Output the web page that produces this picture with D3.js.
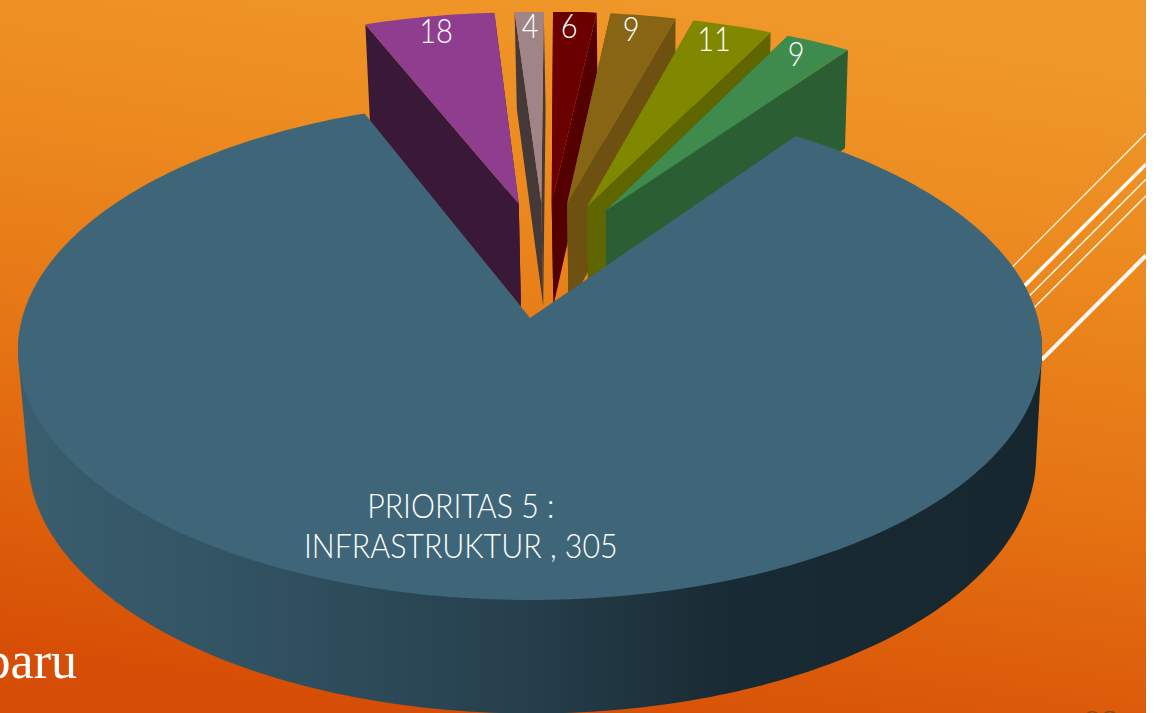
<!DOCTYPE html>
<html><head><meta charset="utf-8">
<style>html,body{margin:0;padding:0;background:#fff;overflow:hidden}svg{display:block}</style>
<script src="https://cdn.jsdelivr.net/npm/d3@7"></script></head><body>
<svg id="c" width="1154" height="713"></svg>
<script>
const categories = ["PRIORITAS 5 :\nINFRASTRUKTUR , 305","18","4","6","9","11","9"];
const values = [305,18,4,6,9,11,9];
const topColors = ["#3f6678","#8f3d8f","#a08488","#6b0000","#876514","#808800","#3f8b4d"];
const wallColors = ["#2a4553","#3a1838","#443838","#550000","#6e5010","#5f6600","#2b5e32"];
const leaderRimAngles = [77.6,82.3,84.7,87.5,99.6];
const leaderWidths = [1.2,3.6,1.5,1.5,4];

const W=1154,H=713,bgW=1146;
const rad=d=>d*Math.PI/180;
const svg=d3.select("#c");
const defs=svg.append("defs");

// background
const bg=defs.append("linearGradient").attr("id","bg").attr("x1",0.62).attr("y1",0).attr("x2",0.38).attr("y2",1);
[[0,"#f0982a"],[0.3,"#eb881e"],[0.6,"#e57313"],[1,"#d64e05"]].forEach(s=>bg.append("stop").attr("offset",s[0]).attr("stop-color",s[1]));
svg.append("rect").attr("width",bgW).attr("height",H).attr("fill","url(#bg)");

// rim gradient
const sg=defs.append("linearGradient").attr("id","side").attr("gradientUnits","userSpaceOnUse")
  .attr("x1",25).attr("y1",0).attr("x2",1040).attr("y2",0);
[[0,"#3a5e6e"],[0.27,"#2f4f5e"],[0.49,"#263f4c"],[0.7,"#182a33"],[1,"#17272f"]]
  .forEach(s=>sg.append("stop").attr("offset",s[0]).attr("stop-color",s[1]));
defs.append("clipPath").attr("id","frame").append("rect").attr("x",0).attr("y",12).attr("width",bgW).attr("height",H);

// projection of the pie plane
const persp=0.128, drop=106, taper=0.0156, taperX=660, explode=0.25, smallR=0.985;
const px=d3.scaleLinear().domain([0,1]).range([530,530+507.8]);
const py=d3.scaleLinear().domain([0,1]).range([318,318+245.9]);
const dir=a=>[Math.sin(a),-Math.cos(a)];
function proj(u,v,z){
  const w=1/(1-persp*v);
  const x=px(u*w), y=py(v*w)+drop*Math.sqrt(w)*z;
  return [taperX+(x-taperX)*(1-taper*z), y];
}
const pie=d3.pie().sort(null).value(d=>d).startAngle(rad(35.3)).endAngle(rad(395.3));
const arcs=pie(values);
const mainMid=(arcs[0].startAngle+arcs[0].endAngle)/2;
const md=dir(mainMid);
arcs.forEach((a,i)=>{
  a.mid=(a.startAngle+a.endAngle)/2;
  const m=dir(a.mid);
  a.ox=explode*(m[0]-md[0]); a.oy=explode*(m[1]-md[1]);
  a.r=i===0?1:smallR;
});
const line=d3.line();
const rimPts=(a,z,from,to)=>{
  const n=Math.max(2,Math.ceil((to-from)/rad(1)));
  return d3.range(n+1).map(i=>{const t=from+(to-from)*i/n,d=dir(t);return proj(a.ox+a.r*d[0],a.oy+a.r*d[1],z);});
};

// leader lines
const mainArc=arcs[0];
svg.append("g").selectAll("line").data(leaderRimAngles).join("line")
  .each(function(d,i){
    const p=dir(rad(d)), s=proj(p[0],p[1],0);
    d3.select(this).attr("x1",s[0]).attr("y1",s[1]).attr("x2",bgW).attr("y2",s[1]-(bgW-s[0]))
      .attr("stroke","#fff8ee").attr("stroke-width",leaderWidths[i]);
  });

// exploded slices: wall then top, back to front
const g=svg.append("g").attr("clip-path","url(#frame)");
arcs.slice(1).forEach((a,k)=>{
  const i=k+1;
  const apexT=proj(a.ox,a.oy,0), apexB=proj(a.ox,a.oy,1);
  [a.startAngle,a.endAngle].forEach(t=>{
    const d=dir(t), cT=proj(a.ox+a.r*d[0],a.oy+a.r*d[1],0), cB=proj(a.ox+a.r*d[0],a.oy+a.r*d[1],1);
    g.append("path").attr("d",line([apexT,cT,cB,apexB])+"Z").attr("fill",wallColors[i]);
  });
  const top=[apexT].concat(rimPts(a,0,a.startAngle,a.endAngle));
  g.append("path").attr("d",line(top)+"Z").attr("fill",topColors[i]);
});

// main slice: rim hull then top
const hullPts=rimPts(mainArc,0,rad(93),rad(267)).concat(rimPts(mainArc,1,rad(93),rad(267)));
svg.append("path").attr("d",line(d3.polygonHull(hullPts))+"Z").attr("fill","url(#side)");
const mainTop=[proj(mainArc.ox,mainArc.oy,0)].concat(rimPts(mainArc,0,mainArc.startAngle,mainArc.endAngle));
svg.append("path").attr("d",line(mainTop)+"Z").attr("fill",topColors[0]);

// labels
const font='Lato, "Open Sans", sans-serif';
const squeeze=0.88;
function label(x,y,t,size,sx){
  svg.append("text").attr("transform",`translate(${x},${y}) scale(${sx},1)`)
    .attr("text-anchor","middle").attr("dominant-baseline","central")
    .attr("font-family",font).attr("font-size",size).attr("font-weight",300).attr("fill","#fff").text(t);
}
arcs.slice(1).forEach((a,k)=>{
  const t=Math.sin(a.mid)>0 ? a.mid-0.1*(a.endAngle-a.startAngle) : a.mid;
  const d=dir(t), p=proj(a.ox+0.9*d[0],a.oy+0.9*d[1],0);
  label(p[0],p[1]-1,categories[k+1],33,squeeze);
});
{
  const d=dir(mainMid), p=proj(0.767*d[0],0.767*d[1],0);
  categories[0].split("\n").forEach((t,i)=>label(p[0]-17,p[1]+(i-0.5)*40,t,33,0.92));
}
// slide text behind the chart
svg.append("text").attr("x",77).attr("y",678).attr("text-anchor","end")
  .attr("font-family",'"Liberation Serif",serif').attr("font-size",52).attr("fill","#fff").text("baru");
svg.append("text").attr("x",1118).attr("y",733).attr("text-anchor","end")
  .attr("font-family",'"Liberation Serif",serif').attr("font-size",34).attr("fill","#8a4a10").text("98");
</script></body></html>
